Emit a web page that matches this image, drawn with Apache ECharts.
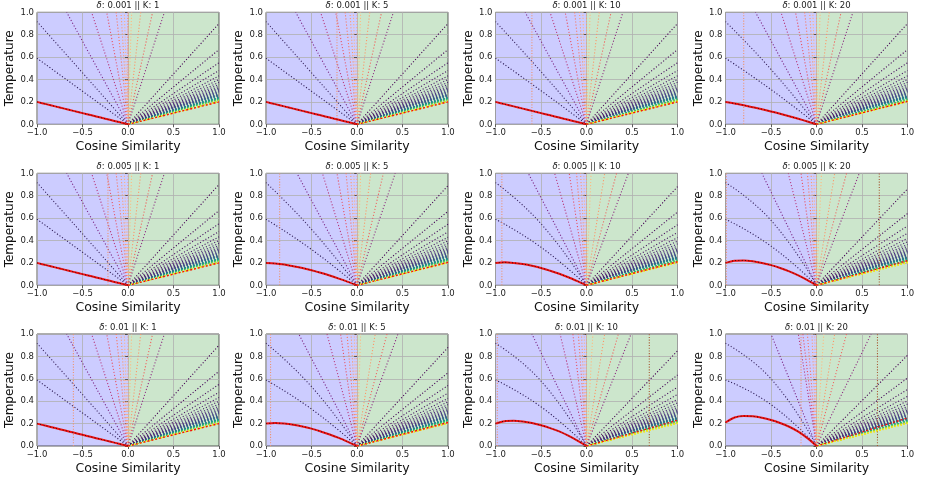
<!DOCTYPE html>
<html><head><meta charset="utf-8">
<script src="https://cdn.jsdelivr.net/npm/echarts@6/dist/echarts.min.js"></script>
<style>html,body{margin:0;padding:0;background:#fff}#c{width:926px;height:481px}</style>
</head><body><div id="c"></div>
<script>
// ---------- data ----------
const deltas = ['0.001', '0.005', '0.01'];
const Ks = ['1', '5', '10', '20'];
const xTicks = [-1, -0.5, 0, 0.5, 1];
const yTicks = [0, 0.2, 0.4, 0.6, 0.8, 1];

// red curve (left half), sampled at redX, one row per panel (row-major: delta, K)
const redX = [-1, -0.9, -0.8, -0.7, -0.6, -0.5, -0.4, -0.3, -0.2, -0.1, 0];
const redLeft = [
  [0.2, 0.18, 0.16, 0.14, 0.12, 0.10, 0.08, 0.06, 0.04, 0.02, 0],
  [0.2, 0.18, 0.16, 0.14, 0.12, 0.10, 0.08, 0.06, 0.04, 0.02, 0],
  [0.2, 0.18, 0.16, 0.14, 0.12, 0.10, 0.08, 0.06, 0.04, 0.02, 0],
  [0.2, 0.185, 0.17, 0.152, 0.135, 0.115, 0.094, 0.072, 0.049, 0.025, 0],
  [0.2, 0.18, 0.16, 0.14, 0.12, 0.10, 0.08, 0.06, 0.04, 0.02, 0],
  [0.2, 0.195, 0.185, 0.17, 0.155, 0.135, 0.112, 0.087, 0.06, 0.031, 0],
  [0.2, 0.205, 0.2, 0.19, 0.175, 0.155, 0.13, 0.103, 0.072, 0.037, 0],
  [0.2, 0.22, 0.222, 0.215, 0.2, 0.18, 0.155, 0.125, 0.088, 0.046, 0],
  [0.2, 0.18, 0.16, 0.14, 0.12, 0.10, 0.08, 0.06, 0.04, 0.02, 0],
  [0.2, 0.205, 0.2, 0.19, 0.175, 0.155, 0.13, 0.103, 0.072, 0.037, 0],
  [0.2, 0.222, 0.225, 0.218, 0.205, 0.185, 0.16, 0.13, 0.092, 0.048, 0],
  [0.21, 0.255, 0.268, 0.265, 0.252, 0.232, 0.205, 0.172, 0.128, 0.07, 0]
];
// red line (right half) value at x = 1
const redRightEnd = [0.2, 0.2, 0.2, 0.205, 0.2, 0.205, 0.21, 0.22, 0.2, 0.21, 0.23, 0.25];

// two left lines reaching x = -1 (value at -1) and their value at x = -0.5 per panel
const leftEdgeEnd = [0.59, 0.917];
const leftEdgeMid = [
  [0.295, 0.46], [0.295, 0.46], [0.30, 0.47], [0.31, 0.49],
  [0.295, 0.46], [0.32, 0.50], [0.34, 0.55], [0.35, 0.58],
  [0.295, 0.46], [0.33, 0.53], [0.35, 0.58], [0.37, 0.60]
];
// left lines reaching the top (x where T = 1)
const leftTopX = [
  [-0.674, -0.40, -0.234, -0.13, -0.077, -0.04],
  [-0.674, -0.40, -0.234, -0.13, -0.077, -0.04],
  [-0.674, -0.40, -0.234, -0.13, -0.077, -0.04],
  [-0.67, -0.39, -0.23, -0.13, -0.075, -0.04],
  [-0.674, -0.40, -0.234, -0.13, -0.077, -0.04],
  [-0.66, -0.38, -0.22, -0.12, -0.07, -0.035],
  [-0.64, -0.35, -0.19, -0.11, -0.065, -0.03],
  [-0.60, -0.31, -0.17, -0.10, -0.06, -0.03],
  [-0.674, -0.40, -0.234, -0.13, -0.077, -0.04],
  [-0.64, -0.33, -0.18, -0.11, -0.065, -0.03],
  [-0.60, -0.29, -0.15, -0.09, -0.055, -0.025],
  [-0.50, -0.20, -0.15, -0.10, -0.05, -0.02]
];
// right steep lines reaching the top (x where T = 1)
const rightTopX = [
  [0.04, 0.14, 0.27, 0.40], [0.04, 0.14, 0.27, 0.40], [0.04, 0.14, 0.27, 0.40], [0.04, 0.14, 0.27, 0.40],
  [0.04, 0.14, 0.27, 0.40], [0.04, 0.15, 0.29, 0.42], [0.05, 0.20, 0.33, 0.46], [0.055, 0.20, 0.33, 0.47],
  [0.04, 0.14, 0.27, 0.40], [0.04, 0.20, 0.33, 0.45], [0.07, 0.20, 0.35, 0.49], [0.08, 0.20, 0.33, 0.60]
];
// fan on the right: values at x = 1 (reference panel), top line value per panel
const fanEnds = [0.90, 0.667, 0.55, 0.48, 0.433, 0.40, 0.375, 0.356, 0.34, 0.327, 0.317, 0.308, 0.30,
  0.293, 0.287, 0.282, 0.277, 0.273, 0.269, 0.265, 0.262, 0.259, 0.256, 0.253, 0.251, 0.249, 0.247,
  0.245, 0.243, 0.241, 0.239, 0.238, 0.236, 0.235, 0.234, 0.232, 0.231, 0.23, 0.229, 0.228, 0.227,
  0.226, 0.225, 0.224, 0.223, 0.222, 0.221, 0.22, 0.219, 0.218, 0.217, 0.216, 0.215, 0.214, 0.213,
  0.212, 0.211, 0.21, 0.209, 0.208, 0.207, 0.206, 0.205, 0.204, 0.203, 0.202, 0.201, 0.2];
const fanTopEnd = [0.9, 0.9, 0.9, 0.9, 0.9, 0.89, 0.88, 0.86, 0.9, 0.88, 0.85, 0.81];
// vertical dotted lines per panel
const verticalX = [[0], [-0.22], [-0.6], [-0.8], [-0.22], [-0.85], [-0.93], [-0.99, 0.69],
  [-0.6], [-0.95], [-0.98, 0.69], [-0.17, 0.67]];

// ---------- styles ----------
const FF = 'DejaVu Sans';
const leftColors = ['#2c1a55', '#3a2660', '#7b2382', '#b73779', '#e75263', '#f8765c', '#fd9a6a', '#feb47c'];
const zeroColor = '#f4a07a';
const rightColors = ['#feba80', '#fd9668', '#f1605d', '#8c2981'];
const viridis = ['#440154', '#482475', '#414487', '#355f8d', '#2a788e', '#21918c', '#22a884', '#44bf70', '#7ad151', '#bddf26', '#fde725'];
function hex2rgb(h) { return [1, 3, 5].map(i => parseInt(h.substr(i, 2), 16)); }
function vir(t) {
  const s = t * (viridis.length - 1), i = Math.min(Math.floor(s), viridis.length - 2), f = s - i;
  const a = hex2rgb(viridis[i]), b = hex2rgb(viridis[i + 1]);
  return 'rgb(' + a.map((v, k) => Math.round(v + (b[k] - v) * f)).join(',') + ')';
}
const GL = [37, 266, 495.5, 725.5], GT = [12.3, 173.3, 334], W = 182, H = 112;
const DOT = [1.1, 2];
const fmt = v => (v < 0 ? '\u2212' : '') + Math.abs(v).toFixed(1);

const option = { animation: false, grid: [], xAxis: [], yAxis: [], series: [], graphic: [] };

function line(p, data, color, extra) {
  option.series.push(Object.assign({
    type: 'line', xAxisIndex: p, yAxisIndex: p, data: data, symbol: 'none', silent: true,
    lineStyle: { color: color, width: 1.1, type: DOT }, z: 2
  }, extra || {}));
}

for (let r = 0; r < deltas.length; r++) for (let c = 0; c < Ks.length; c++) {
  const p = r * 4 + c;
  option.grid.push({ left: GL[c], top: GT[r], width: W, height: H, show: true, borderColor: '#333', borderWidth: 0.8, backgroundColor: 'transparent' });
  option.xAxis.push({
    type: 'value', gridIndex: p, min: xTicks[0], max: xTicks[xTicks.length - 1], interval: xTicks[1] - xTicks[0],
    name: 'Cosine Similarity', nameLocation: 'middle', nameGap: 16,
    nameTextStyle: { fontSize: 12.5, color: '#111', fontFamily: FF },
    axisLine: { show: false }, axisTick: { show: true, length: 3, lineStyle: { color: '#333', width: 0.8 } },
    axisLabel: { fontSize: 8.5, color: '#222', margin: 4, formatter: fmt, fontFamily: FF, showMinLabel: true, showMaxLabel: true },
    splitLine: { show: true, lineStyle: { color: '#b0b0b0', width: 0.8 } }
  });
  option.yAxis.push({
    type: 'value', gridIndex: p, min: yTicks[0], max: yTicks[yTicks.length - 1], interval: yTicks[1] - yTicks[0],
    name: 'Temperature', nameLocation: 'middle', nameGap: 21,
    nameTextStyle: { fontSize: 12, color: '#111', fontFamily: FF },
    axisLine: { show: false }, axisTick: { show: true, length: 3, lineStyle: { color: '#333', width: 0.8 } },
    axisLabel: { fontSize: 8.5, color: '#222', margin: 3, formatter: v => v.toFixed(1), fontFamily: FF, showMinLabel: true, showMaxLabel: true },
    splitLine: { show: true, lineStyle: { color: '#b0b0b0', width: 0.8 } }
  });
  // backgrounds
  option.series.push({ type: 'line', xAxisIndex: p, yAxisIndex: p, data: [[-1, 1], [0, 1]], symbol: 'none', silent: true, z: -1,
    lineStyle: { width: 0, opacity: 0 }, areaStyle: { color: 'rgb(204,204,255)', opacity: 1 } });
  option.series.push({ type: 'line', xAxisIndex: p, yAxisIndex: p, data: [[0, 1], [1, 1]], symbol: 'none', silent: true, z: -1,
    lineStyle: { width: 0, opacity: 0 }, areaStyle: { color: 'rgb(204,230,204)', opacity: 1 } });

  // left family
  for (let i = 0; i < leftEdgeEnd.length; i++) {
    line(p, [[-1, leftEdgeEnd[i]], [-0.5, leftEdgeMid[p][i]], [0, 0]], leftColors[i], { smooth: 0.5 });
  }
  leftTopX[p].forEach((x, i) => line(p, [[0, 0], [x, 1]], leftColors[i + 2]));
  line(p, [[0, 0], [0, 1]], zeroColor);
  // right steep lines
  rightTopX[p].forEach((x, i) => line(p, [[0, 0], [x, 1]], rightColors[i]));
  // fan
  const sc = (fanTopEnd[p] - 0.2) / (fanEnds[0] - 0.2);
  fanEnds.forEach((e, i) => line(p, [[0, 0], [1, 0.2 + (e - 0.2) * sc]], vir(i / (fanEnds.length - 1))));
  // verticals
  verticalX[p].forEach(x => line(p, [[x, 0], [x, 1]], x > 0 ? '#a85a34' : '#ee9470', { lineStyle: { color: x > 0 ? '#a85a34' : '#ee9470', width: 1.1, type: [1.1, 1.6] } }));
  // red curve
  const rd = redX.map((x, i) => [x, redLeft[p][i]]);
  line(p, rd, '#f01010', { smooth: 0.3, lineStyle: { color: '#f01010', width: 2, type: 'solid' }, z: 3 });
  line(p, rd, '#111', { smooth: 0.3, lineStyle: { color: '#111', width: 0.9, type: [0.9, 2.4] }, z: 4 });
  line(p, [[0, 0], [1, redRightEnd[p]]], '#f01010', { lineStyle: { color: '#f01010', width: 1.4, type: [2, 2] }, z: 3 });

  // title
  option.graphic.push({
    type: 'text', x: GL[c] + W / 2, y: GT[r] - 11, silent: true,
    style: {
      text: '{i|\u03b4}: ' + deltas[r] + ' || K: ' + Ks[c], fill: '#222', font: '8.5px "DejaVu Sans"',
      align: 'center', verticalAlign: 'top', textAlign: 'center', textVerticalAlign: 'top',
      rich: { i: { fontStyle: 'italic', fontSize: 8.5, fontFamily: FF, fill: '#222', color: '#222' } }
    }
  });
}

const chart = echarts.init(document.getElementById('c'), null, { renderer: 'canvas' });
chart.setOption(option);
</script>
</body></html>
